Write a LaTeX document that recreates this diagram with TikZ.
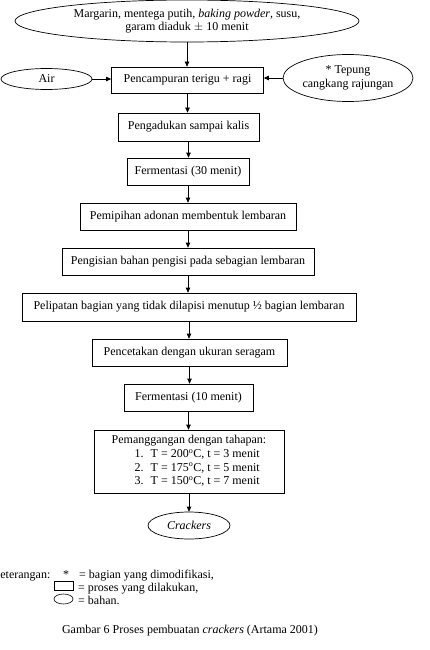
\documentclass[tikz,border=0pt]{standalone}
\usepackage{fontspec}
\setmainfont{Liberation Serif}
\usetikzlibrary{shapes.geometric,arrows.meta}
\begin{document}
\begin{tikzpicture}[x=1pt,y=-1pt,
  every node/.style={font=\fontsize{12}{13.6}\selectfont},
  procbox/.style={draw,rectangle,line width=0.7pt,inner sep=0pt,align=center},
  matbox/.style={draw,ellipse,line width=0.7pt,inner sep=0pt,align=center},
  flow/.style={line width=0.7pt,-{Triangle[length=5pt,width=4.5pt]}}]
\useasboundingbox (0,0) rectangle (430,650);
\node[matbox,minimum width=344pt,minimum height=42pt] (top) at (187,21)
  {Margarin, mentega putih, \textit{baking powder}, susu,\\garam diaduk $\pm$ 10 menit};
\node[procbox,minimum width=152pt,minimum height=26pt] (b1) at (187.5,80) {Pencampuran terigu + ragi};
\node[matbox,minimum width=91pt,minimum height=21pt] (air) at (46.5,79) {Air};
\node[matbox,minimum width=130pt,minimum height=47pt] (tep) at (348,78) {* Tepung\\cangkang rajungan};
\node[procbox,minimum width=141pt,minimum height=28pt] (b2) at (188.5,127) {Pengadukan sampai kalis};
\node[procbox,minimum width=122pt,minimum height=27pt] (b3) at (188,171.5) {Fermentasi (30 menit)};
\node[procbox,minimum width=216pt,minimum height=27pt] (b4) at (188,216.5) {Pemipihan adonan membentuk lembaran};
\node[procbox,minimum width=252pt,minimum height=27pt] (b5) at (188,261.5) {Pengisian bahan pengisi pada sebagian lembaran};
\node[procbox,minimum width=334pt,minimum height=28pt] (b6) at (189,307) {Pelipatan bagian yang tidak dilapisi menutup \textonehalf\ bagian lembaran};
\node[procbox,minimum width=195pt,minimum height=27pt] (b7) at (189.5,352.5) {Pencetakan dengan ukuran seragam};
\node[procbox,minimum width=129pt,minimum height=27pt] (b8) at (188.5,397.5) {Fermentasi (10 menit)};
\node[procbox,minimum width=190pt,minimum height=63pt] (b9) at (189,461.5)
  {\begin{tabular}{@{}l@{}}Pemanggangan dengan tahapan:\\
   \hspace{23pt}1.\hspace{7pt}T = 200\textsuperscript{o}C, t = 3 menit\\
   \hspace{23pt}2.\hspace{7pt}T = 175\textsuperscript{o}C, t = 5 menit\\
   \hspace{23pt}3.\hspace{7pt}T = 150\textsuperscript{o}C, t = 7 menit\end{tabular}};
\node[matbox,minimum width=82pt,minimum height=27pt] (cr) at (189,525.5) {\textit{Crackers}};
% connectors
\draw[flow] (top.south) -- (top.south |- b1.north);
\draw[flow] (air.east) -- (air.east -| b1.west);
\draw[flow] (tep.west) -- (tep.west -| b1.east);
\draw[flow] (b1.south) -- (b1.south |- b2.north);
\draw[flow] (b2.south) -- (b2.south |- b3.north);
\draw[flow] (b3.south) -- (b3.south |- b4.north);
\draw[flow] (b4.south) -- (b4.south |- b5.north);
\draw[flow] (b5.south) -- (b5.south |- b6.north);
\draw[flow] (b6.south) -- (b6.south |- b7.north);
\draw[flow] (b7.south) -- (b7.south |- b8.north);
\draw[flow] (b8.south) -- (b8.south |- b9.north);
\draw[flow] (b9.south) -- (b9.south |- cr.north);
% legend
\node[anchor=base west,inner sep=0pt] (ket) at (-8.5,578) {Keterangan:};
\node[anchor=base,inner sep=0pt] (star) at (66,578) {*};
\node[anchor=base west,inner sep=0pt] (l1) at (79,578) {= bagian yang dimodifikasi,};
\node[draw,rectangle,line width=0.6pt,minimum width=19pt,minimum height=9pt,inner sep=0pt] (lrect) at (63.5,585.5) {};
\node[anchor=base west,inner sep=0pt] (l2) at (78,591) {= proses yang dilakukan,};
\node[draw,ellipse,line width=0.6pt,minimum width=19pt,minimum height=10pt,inner sep=0pt] (lell) at (63.5,599) {};
\node[anchor=base west,inner sep=0pt] (l3) at (78,604) {= bahan.};
\node[anchor=base,inner sep=0pt] (cap) at (190,633) {Gambar 6 Proses pembuatan \textit{crackers} (Artama 2001)};
\end{tikzpicture}
\end{document}
